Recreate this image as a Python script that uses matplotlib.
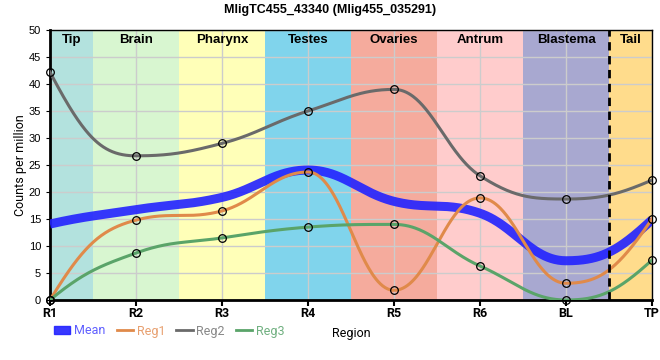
import numpy as np
import matplotlib
matplotlib.use('Agg')
import matplotlib.pyplot as plt
from matplotlib.patches import Patch
from matplotlib.lines import Line2D

# Data
ticks = ['R1', 'R2', 'R3', 'R4', 'R5', 'R6', 'BL', 'TP']
reg1 = [0.0, 14.8, 16.5, 23.7, 1.8, 18.9, 3.1, 15.0]
reg2 = [42.2, 26.7, 29.0, 35.0, 39.0, 23.0, 18.7, 22.2]
reg3 = [0.0, 8.7, 11.5, 13.5, 14.0, 6.3, 0.0, 7.4]

regions = ['Tip', 'Brain', 'Pharynx', 'Testes', 'Ovaries', 'Antrum', 'Blastema', 'Tail']
region_colors = ['#b3e2de', '#d8f6d0', '#ffffb8', '#80d4ec', '#f5ab9d',
                 '#ffcccc', '#a8a8d0', '#ffdc8c']

SANS = ['Liberation Sans', 'DejaVu Sans']
ROBO = ['Roboto', 'DejaVu Sans']


# spline through the points: bezier control points pulled 40% toward the
# neighbours, kept level at local extremes (so no false peaks)
def spline(x, y, steps=80):
    x = [float(v) for v in x]
    y = [float(v) for v in y]
    n = len(x)
    sm = 1.5
    lc = [(x[i], y[i]) for i in range(n)]
    rc = [(x[i], y[i]) for i in range(n)]
    for i in range(1, n - 1):
        lcx = (sm * x[i] + x[i - 1]) / (sm + 1)
        lcy = (sm * y[i] + y[i - 1]) / (sm + 1)
        rcx = (sm * x[i] + x[i + 1]) / (sm + 1)
        rcy = (sm * y[i] + y[i + 1]) / (sm + 1)
        corr = (rcy - lcy) * (rcx - x[i]) / (rcx - lcx) + y[i] - rcy
        lcy += corr
        rcy += corr
        if lcy > y[i - 1] and lcy > y[i]:
            lcy = max(y[i - 1], y[i])
            rcy = 2 * y[i] - lcy
        elif lcy < y[i - 1] and lcy < y[i]:
            lcy = min(y[i - 1], y[i])
            rcy = 2 * y[i] - lcy
        if rcy > y[i + 1] and rcy > y[i]:
            rcy = max(y[i + 1], y[i])
            lcy = 2 * y[i] - rcy
        elif rcy < y[i + 1] and rcy < y[i]:
            rcy = min(y[i + 1], y[i])
            lcy = 2 * y[i] - rcy
        lc[i] = (lcx, lcy)
        rc[i] = (rcx, rcy)

    # end points: steepish tangent, control kept between the end and its
    # neighbour's control so the first / last piece bends only one way
    f = 1 / (sm + 1)
    for end, nb, ctrl in ((0, 1, lc[1]), (n - 1, n - 2, rc[n - 2])):
        h = x[nb] - x[end]
        s = (y[nb] - y[end]) / h
        t = (rc[nb][1] - lc[nb][1]) / (rc[nb][0] - lc[nb][0])
        m = 1.3 * (3 * s - t) / 2
        cy = y[end] + f * h * m
        lo, hi = sorted((y[end], ctrl[1]))
        cy = min(max(cy, lo), hi)
        pt = (x[end] + f * h, cy)
        if end == 0:
            rc[0] = pt
        else:
            lc[-1] = pt

    u = np.linspace(0, 1, steps)
    bx, by = [], []
    for i in range(1, n):
        p0 = np.array([x[i - 1], y[i - 1]])
        c1 = np.array(rc[i - 1])
        c2 = np.array(lc[i])
        p3 = np.array([x[i], y[i]])
        pts = (((1 - u) ** 3)[:, None] * p0 + (3 * (1 - u) ** 2 * u)[:, None] * c1 +
               (3 * (1 - u) * u ** 2)[:, None] * c2 + (u ** 3)[:, None] * p3)
        bx.extend(pts[:, 0])
        by.extend(pts[:, 1])
    return np.array(bx), np.array(by)


xi = np.arange(len(ticks))
mean = (np.array(reg1) + np.array(reg2) + np.array(reg3)) / 3

fig = plt.figure(figsize=(6.6, 3.6), dpi=100)
ax = fig.add_axes([50 / 660, 60 / 360, 602 / 660, 270 / 360])

# region bands
for i, (name, col) in enumerate(zip(regions, region_colors)):
    lo = max(i - 0.5, 0)
    hi = min(i + 0.5, len(ticks) - 1)
    ax.axvspan(lo, hi, color=col, lw=0, zorder=0)
    ax.text((lo + hi) / 2, 48.2, name, ha='center', va='center',
            fontsize=9.5, fontweight='bold', family=SANS, zorder=5)

ax.axvline(6.5, color='black', ls=(0, (3, 2)), lw=2, zorder=4)

c1, c2, c3, cm = '#e08a4a', '#6a6a6a', '#5aa469', '#2222ff'
ax.plot(*spline(xi, mean), color=cm, lw=6.5, alpha=0.9,
        solid_capstyle='butt', zorder=3)
ax.plot(*spline(xi, reg1), color=c1, lw=2.2, zorder=3)
ax.plot(*spline(xi, reg2), color=c2, lw=2.2, zorder=3)
ax.plot(*spline(xi, reg3), color=c3, lw=2.2, zorder=3)
for vals in (reg1, reg2, reg3):
    ax.plot(xi, vals, 'o', mfc='none', mec='black', ms=5.5, mew=0.9,
            zorder=6, clip_on=False)

ax.set_xlim(0, len(ticks) - 1)
ax.set_ylim(0, 50)
ax.set_xticks(xi)
ax.set_xticklabels(ticks, fontsize=9, fontweight='bold', family=ROBO)
ax.set_yticks(np.arange(0, 51, 5))
ax.set_yticklabels([str(v) for v in range(0, 51, 5)], fontsize=8, family=SANS)
ax.tick_params(axis='y', length=3)
ax.tick_params(axis='x', length=4, width=1.5, pad=1)
ax.grid(True, color='#cccccc', lw=1, zorder=1)
ax.set_axisbelow(True)
for side in ('left', 'bottom'):
    ax.spines[side].set_linewidth(2)
for side in ('top', 'right'):
    ax.spines[side].set_linewidth(1)

ax.set_ylabel('Counts per million', fontsize=9, labelpad=1, family=ROBO)
ax.set_xlabel('Region', fontsize=9, labelpad=5, family=ROBO)
fig.text(0.5, 0.972, 'MligTC455_43340 (Mlig455_035291)', ha='center',
         va='center', fontsize=9, fontweight='bold', family=SANS)

handles = [Patch(color=cm, alpha=0.9),
           Line2D([], [], color=c1, lw=2),
           Line2D([], [], color=c2, lw=2),
           Line2D([], [], color=c3, lw=2)]
leg = fig.legend(handles, ['Mean', 'Reg1', 'Reg2', 'Reg3'], ncol=4,
                 loc='center left', bbox_to_anchor=(54 / 660, 1 - 331 / 360),
                 frameon=False, prop={'family': ROBO, 'size': 9},
                 handlelength=1.3, handleheight=0.55, handletextpad=0.3,
                 columnspacing=0.9, borderaxespad=0, borderpad=0)
for txt, col in zip(leg.get_texts(), ['#6060ff', '#e8a070', '#888888', '#70b080']):
    txt.set_color(col)

fig.savefig('out.png', dpi=100)
